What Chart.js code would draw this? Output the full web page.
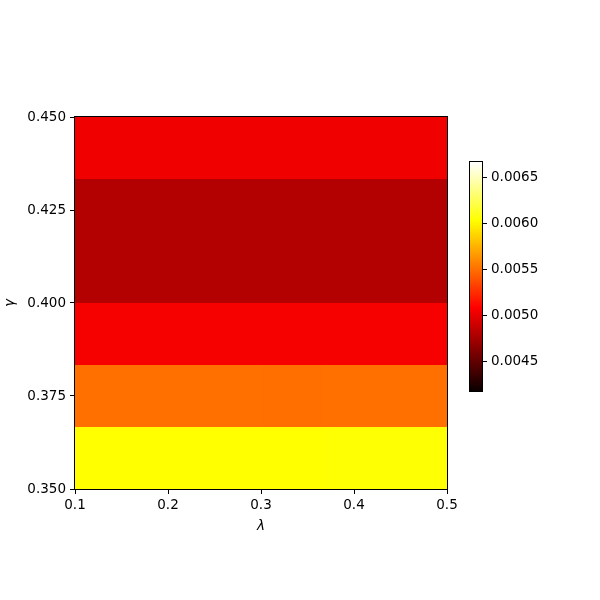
<!DOCTYPE html>
<html>
<head>
<meta charset="utf-8">
<script src="https://cdn.jsdelivr.net/npm/chart.js@4"></script>
<style>
  body { margin: 0; background: #fff; }
  #wrap { position: relative; width: 600px; height: 600px; }
  #main { position: absolute; left: 0; top: 0; }
  #cbar { position: absolute; left: 460px; top: 150px; }
</style>
</head>
<body>
<div id="wrap">
  <canvas id="main" width="600" height="600"></canvas>
  <canvas id="cbar" width="140" height="260"></canvas>
</div>
<script>
// 격자 경계 (λ, γ)
const lambdaEdges = [0.1, 0.1667, 0.2333, 0.3, 0.3667, 0.4333, 0.5];
const gammaEdges = [0.35, 0.3667, 0.3833, 0.4, 0.4167, 0.4333, 0.45];

// 셀 값: 아래 행(γ 작은 쪽)부터 위로
const row0 = [0.00604, 0.00604, 0.00604, 0.00604, 0.00605, 0.00605];
const row1 = [0.00551, 0.00551, 0.00551, 0.005505, 0.00551, 0.00551];
const row2 = [0.00506, 0.00506, 0.00506, 0.00506, 0.00506, 0.00506];
const row3 = [0.00481, 0.00481, 0.00481, 0.00481, 0.00481, 0.00481];
const row4 = [0.00481, 0.00481, 0.00481, 0.00481, 0.00481, 0.00481];
const row5 = [0.00504, 0.00504, 0.00504, 0.00504, 0.00504, 0.00504];
const rows = [row0, row1, row2, row3, row4, row5];

// 컬러바 범위와 눈금
const vmin = 0.004184;
const vmax = 0.006672;
const cbarTicks = [0.0045, 0.0050, 0.0055, 0.0060, 0.0065];
const xTicks = [0.1, 0.2, 0.3, 0.4, 0.5];
const yTicks = [0.350, 0.375, 0.400, 0.425, 0.450];

const FONT = { family: 'DejaVu Sans', size: 13.5 };

// matplotlib 'hot' 컬러맵
function hot(t) {
  t = Math.max(0, Math.min(1, t));
  const r = t < 0.365079 ? 0.0416 + (1 - 0.0416) * t / 0.365079 : 1;
  const g = t < 0.365079 ? 0 : (t < 0.746032 ? (t - 0.365079) / (0.746032 - 0.365079) : 1);
  const b = t < 0.746032 ? 0 : (t - 0.746032) / (1 - 0.746032);
  return 'rgb(' + Math.round(r * 255) + ',' + Math.round(g * 255) + ',' + Math.round(b * 255) + ')';
}
function colorOf(v) { return hot((v - vmin) / (vmax - vmin)); }

// 셀 중심점 (데이터셋용)
const centers = [];
rows.forEach((row, j) => row.forEach((v, i) => {
  centers.push({ x: (lambdaEdges[i] + lambdaEdges[i + 1]) / 2, y: (gammaEdges[j] + gammaEdges[j + 1]) / 2, v: v });
}));

// 히트맵 셀 그리기 플러그인
const heatmapPlugin = {
  id: 'heatmap',
  beforeDatasetsDraw(chart) {
    const ctx = chart.ctx, xs = chart.scales.x, ys = chart.scales.y;
    ctx.save();
    rows.forEach((row, j) => row.forEach((v, i) => {
      const x0 = Math.round(xs.getPixelForValue(lambdaEdges[i]));
      const x1 = Math.round(xs.getPixelForValue(lambdaEdges[i + 1]));
      const y0 = Math.round(ys.getPixelForValue(gammaEdges[j + 1]));
      const y1 = Math.round(ys.getPixelForValue(gammaEdges[j]));
      ctx.fillStyle = colorOf(v);
      ctx.fillRect(x0, y0, x1 - x0, y1 - y0);
    }));
    ctx.restore();
  },
  afterDatasetsDraw(chart) {
    const a = chart.chartArea, ctx = chart.ctx;
    ctx.save();
    ctx.strokeStyle = '#000';
    ctx.lineWidth = 1;
    ctx.strokeRect(Math.round(a.left) - 0.5, Math.round(a.top) - 0.5, Math.round(a.right - a.left) + 1, Math.round(a.bottom - a.top) + 1);
    ctx.restore();
  }
};

new Chart(document.getElementById('main').getContext('2d'), {
  type: 'scatter',
  data: { datasets: [{ data: centers, pointRadius: 0, pointHoverRadius: 0 }] },
  options: {
    responsive: false,
    animation: false,
    layout: { padding: { left: 0, top: 117, right: 153, bottom: 65 } },
    plugins: { legend: { display: false }, tooltip: { enabled: false } },
    scales: {
      x: {
        type: 'linear', min: 0.1, max: 0.5,
        afterBuildTicks: s => { s.ticks = xTicks.map(v => ({ value: v })); },
        afterFit: s => { s.height = 46; },
        ticks: { color: '#000', font: FONT, padding: 3, maxRotation: 0, callback: v => v.toFixed(1) },
        grid: { drawOnChartArea: false, drawTicks: true, tickLength: 5, tickColor: '#000' },
        border: { display: true, color: '#000' },
        title: { display: true, text: 'λ', color: '#000', font: { family: 'DejaVu Sans', size: 13.5, style: 'italic' }, padding: { top: 0, bottom: 0 } }
      },
      y: {
        type: 'linear', min: 0.35, max: 0.45,
        afterBuildTicks: s => { s.ticks = yTicks.map(v => ({ value: v })); },
        afterFit: s => { s.width = 75; },
        ticks: { color: '#000', font: FONT, padding: 4, callback: v => v.toFixed(3) },
        grid: { drawOnChartArea: false, drawTicks: true, tickLength: 5, tickColor: '#000' },
        border: { display: true, color: '#000' },
        title: { display: true, text: 'γ', color: '#000', font: { family: 'DejaVu Sans', size: 13.5, style: 'italic' }, padding: { top: 2, bottom: 0 } }
      }
    }
  },
  plugins: [heatmapPlugin]
});

// 컬러바 그라데이션 플러그인
const cbarPlugin = {
  id: 'cbar',
  beforeDatasetsDraw(chart) {
    const a = chart.chartArea, ctx = chart.ctx, ys = chart.scales.y;
    ctx.save();
    const top = Math.round(ys.getPixelForValue(vmax));
    const bottom = Math.round(ys.getPixelForValue(vmin));
    for (let p = top; p < bottom; p++) {
      const v = ys.getValueForPixel(p + 0.5);
      ctx.fillStyle = colorOf(v);
      ctx.fillRect(Math.round(a.left), p, Math.round(a.right - a.left), 1);
    }
    ctx.strokeStyle = '#000';
    ctx.lineWidth = 1;
    ctx.strokeRect(Math.round(a.left) - 0.5, top - 0.5, Math.round(a.right - a.left) + 1, bottom - top + 1);
    ctx.restore();
  }
};

new Chart(document.getElementById('cbar').getContext('2d'), {
  type: 'scatter',
  data: { datasets: [{ data: [], pointRadius: 0 }] },
  options: {
    responsive: false,
    animation: false,
    layout: { padding: { left: 10, top: 10, right: 0, bottom: 19 } },
    plugins: { legend: { display: false }, tooltip: { enabled: false } },
    scales: {
      x: { display: false, min: 0, max: 1 },
      y: {
        type: 'linear', position: 'right', min: vmin, max: vmax,
        afterBuildTicks: s => { s.ticks = cbarTicks.map(v => ({ value: v })); },
        afterFit: s => { s.width = 118; },
        ticks: { color: '#000', font: FONT, padding: 4, callback: v => v.toFixed(4) },
        grid: { drawOnChartArea: false, drawTicks: true, tickLength: 5, tickColor: '#000' },
        border: { display: false }
      }
    }
  },
  plugins: [cbarPlugin]
});
</script>
</body>
</html>
